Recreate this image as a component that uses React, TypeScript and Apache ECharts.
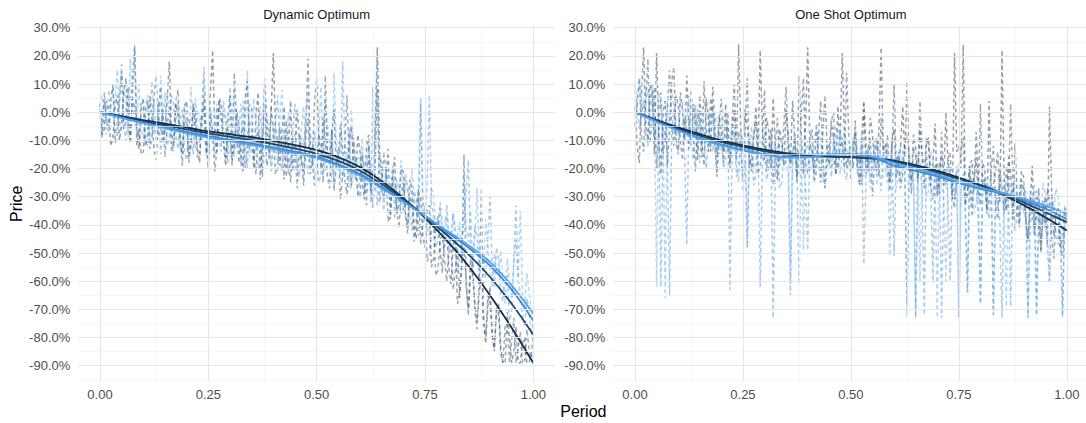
import React, { useEffect, useRef } from "react";
import * as echarts from "echarts";

// ---- axes -----------------------------------------------------------------
const panelTitles = ["Dynamic Optimum", "One Shot Optimum"];
const xTicks = [0, 0.25, 0.5, 0.75, 1];
const xMinorTicks = [0.125, 0.375, 0.625, 0.875];
const yTicks = [-90, -80, -70, -60, -50, -40, -30, -20, -10, 0, 10, 20, 30];
const yMinorTicks = [-95, -85, -75, -65, -55, -45, -35, -25, -15, -5, 5, 15, 25];

// one colour per group, dark to light
const groupColors = ["#132B43", "#1F4669", "#3C88D4", "#4EA2EE"];

// ---- observed prices (%, period 0 .. 1 in steps of 0.005) -----------------
const dynObs1 = [
  3, -8, -6, 4, 1, -12, -9, 2, 6, -10, -4, 7, 12, -3, -11, 5, 2, -6, -13, 1,
  5, -12, -8, 6, -2, -14, -17, 0, 9, -11, -6, 4, 18, -7, -12, 3, -1, -9, -15, 2,
  4, -16, -10, 3, -6, -13, -18, -1, 2, -15, -9, 8, 22, -8, -14, 4, -3, -11, -19, -2,
  6, -17, -12, 1, -4, -15, -21, 5, 11, -13, -8, -20, -1, 7, -24, -9, 3, -19, -16, 0,
  21, -6, -11, -19, -7, 2, -23, -12, 4, -21, -14, 1, -9, -17, -26, -8, -2, -22, -18, 3,
  12, -9, -20, -2, -10, -23, -27, -7, 1, -18, -16, -4, -13, -24, -29, -11, -5, -17, -24, -8,
  -14, -25, -31, -12, -8, -28, -22, -6, 23, -15, -19, -30, -25, -13, -38, -24, -16, -36, -33, -20,
  -21, -36, -40, -24, -27, -41, -45, -29, -30, -44, -48, -35, -33, -55, -52, -40, -37, -49, -57, -43,
  -42, -55, -61, -47, -45, -68, -64, -52, -48, -60, -72, -58, -53, -70, -77, -64, -59, -75, -82, -69,
  -62, -78, -85, -70, -68, -84, -89, -89, -71, -80, -89, -85, -76, -89, -89, -82, -80, -89, -89, -86,
  -89,
];
const dynObs2 = [
  1, -9, 7, -4, -5, 5, 10, -11, -8, 3, 17, -6, -3, 9, -10, 6, 23, -12, -6, -15,
  -14, 0, 4, -13, -9, 6, 13, -8, -7, 1, -16, -5, 2, -14, -11, 4, 8, -10, -19, -3,
  -4, -18, -12, 2, 0, -16, -15, -3, 6, -12, -20, 0, -8, -21, -13, 5, 3, -9, -17, -6,
  -9, -19, 14, -2, -18, -8, -5, -20, -12, 3, 1, -16, -22, -7, -10, -23, 12, -4, -15, 2,
  -6, -22, -20, -5, -12, -24, -3, -16, -25, -9, -14, -27, -8, -18, -21, -4, 19, -11, -17, -26,
  -24, -8, -11, -25, 13, -14, -19, -6, -28, -20, -15, -31, -22, -12, 6, -17, -26, -9, -18, -29,
  -30, -15, -19, -33, -12, -26, -34, -18, 8, -32, -27, -14, -21, -39, -36, -23, -28, -34, -41, -30,
  -25, -37, -43, -30, -32, -46, -38, -27, -47, -39, -35, -53, -51, -42, -40, -58, -56, -45, -44, -52,
  -60, -50, -47, -63, -56, -48, -66, -55, -15, -62, -70, -52, -58, -68, -74, -61, -27, -72, -80, -65,
  -68, -79, -84, -70, -72, -86, -89, -76, -75, -89, -81, -73, -89, -84, -78, -89, -89, -77, -84, -87,
  -79,
];
const dynObs3 = [
  -1, -6, 4, -3, -7, 2, 9, -9, -3, 6, 14, -5, -10, -1, 5, 11, 24, -2, -8, 3,
  2, -10, -12, -1, 11, -7, -5, 4, -15, -4, 7, -12, -9, 6, 3, -8, -13, -3, 1, -14,
  -17, -2, -6, -15, 5, -9, -11, 3, 16, -8, -19, -4, -7, -16, 2, -10, -14, 1, -3, -18,
  9, -7, -16, 0, -10, -19, 4, -12, -20, -3, -6, -17, -13, -5, 2, -14, -18, -1, -8, -21,
  -14, -4, 6, -15, -21, -8, -11, -22, -17, -6, 3, -18, -23, -9, -12, -2, 7, -16, -19, -7,
  -15, -25, -22, -9, 4, -14, -18, -7, -26, -19, -13, -24, 18, -12, -20, -6, -27, -21, -16, -30,
  -23, -14, -29, -20, -17, -32, 9, -25, -33, -15, -24, -35, -20, -28, -31, -19, -38, -24, -27, -36,
  -34, -22, -26, -37, -42, -28, -31, -44, 5, -30, -39, -25, 6, -33, -36, -48, -45, -32, -40, -51,
  -33, -43, -48, -36, -41, -57, -52, -46, -38, -28, -17, -49, -55, -40, -44, -61, -50, -53, -59, -45,
  -30, -55, -62, -48, -53, -65, -67, -60, -58, -74, -71, -52, -33, -60, -64, -72, -76, -66, -70, -79,
  -74,
];
const dynObs4 = [
  2, 6, -4, -8, 8, 1, -2, 5, 15, -3, -7, 9, 3, -9, 19, 4, -5, -1, 10, -6,
  -9, 2, 6, -11, -3, 5, -12, -6, 13, -2, -8, 7, 1, -10, -14, -4, 4, -13, -10, 3,
  -6, -14, 9, -4, -13, 1, -2, -10, 12, -7, -16, 2, -5, -12, 3, -8, -11, 4, -1, -15,
  -15, -2, 7, -13, -8, 3, -19, -6, 15, -16, -12, 5, -3, -20, -17, -1, 10, -7, -11, -18,
  -4, -12, -18, -3, 8, -16, -13, 0, -20, -11, -7, -21, -15, -5, 2, -17, -22, -8, -10, -24,
  -17, -6, 9, -14, -21, -4, -12, -25, 14, -10, -19, -8, -24, -18, -14, -27, 1, -11, -23, -16,
  -18, -9, -27, -20, -11, -26, -30, -16, 20, -12, -25, -31, -19, -28, -33, -21, -23, -35, -29, -17,
  -36, -24, -28, -33, -20, -31, -35, -26, 3, -37, -33, -40, -44, -27, -30, -42, -38, -34, -46, -39,
  -37, -49, -43, -36, -50, -44, -39, -51, -22, -41, -46, -35, -53, -45, -27, -52, -48, -58, -38, -47,
  -55, -62, -50, -57, -58, -49, -61, -68, -52, -60, -66, -54, -45, -59, -35, -64, -69, -57, -63, -70,
  -72,
];

const shotObs1 = [
  2, -12, -18, 6, 23, -4, -10, 10, 8, -15, 21, -8, -22, 0, 4, -19, -6, 11, 16, -9,
  -15, 7, 1, -10, 13, -6, -12, 3, -4, -17, 6, -11, -19, 5, -2, -14, 9, -5, -16, -1,
  -8, -18, 3, -11, -20, -3, 10, -15, 24, -7, -13, 1, -5, -16, -21, -9, 2, -14, 22, -6,
  -17, -2, -7, -20, 5, -13, -24, -6, -11, -19, 1, -10, -18, 4, -9, -23, 13, -8, -22, -4,
  23, -11, -14, -21, -4, -16, -25, -7, 6, -13, -19, -3, -10, -22, 2, -12, 21, -8, -20, -15,
  -12, -20, -3, -17, -26, -9, 4, -22, -15, -2, -8, -18, -21, -6, 23, -14, -11, -19, -28, -10,
  -6, -23, -19, -12, 2, -16, 11, -20, -24, -8, -13, -25, -5, -17, -27, -11, -9, -26, -18, -4,
  -30, -21, -15, -26, 0, -18, -23, -31, 21, -14, -12, -20, 24, -33, -29, -19, -17, -28, -7, -24,
  -33, -18, -20, -36, 4, -29, -26, -21, -14, -32, 22, -27, -35, -16, -22, -38, -11, -30, -40, -24,
  -28, -39, -45, -33, -19, -42, -37, -27, -50, -38, -30, -47, 2, -29, -44, -36, -34, -48, -51, -40,
  -42,
];
const shotObs2 = [
  -5, 4, 12, -8, -14, 3, 19, -11, -2, 9, -20, -6, 7, -15, -9, 2, 15, -5, -12, 6,
  3, -10, -17, -2, -6, -13, 8, -9, -21, 1, -3, -16, 11, -7, -14, 5, 0, -12, -23, -4,
  5, -14, -11, 0, -18, -9, 1, -17, -7, -12, -24, -5, 12, -20, -15, -8, -3, -22, -19, -10,
  8, -21, -13, -6, -26, -11, -2, -19, -16, -4, 9, -12, -20, -15, -8, -25, -14, -1, 12, -18,
  -22, -10, -6, -24, -17, -8, 4, -15, -27, -18, -12, -3, 0, -22, -19, -13, -9, -20, 14, -7,
  -24, -13, -7, -19, -16, -26, 3, -11, -21, -9, -30, -17, -10, -23, -2, -14, -18, -8, -25, -15,
  10, -20, -14, -27, -22, -11, -8, -18, -29, -13, -16, -24, 4, -15, -21, -9, -12, -26, -31, -19,
  -18, -29, -7, -22, -26, -17, -14, -30, -34, -23, -20, -13, -9, -32, -28, -19, -37, -25, -16, -31,
  3, -26, -24, -35, -31, -20, -12, -33, -38, -22, -27, -36, -19, -28, 3, -25, -42, -34, -30, -21,
  -23, -37, -46, -30, -35, -44, -28, -40, -49, -33, -41, -27, -31, -43, -52, -36, -38, -48, -45, -34,
  -39,
];
const shotObs3 = [
  10, 2, -6, -1, 4, -8, -12, 5, 7, -10, -3, 0, -62, -4, -9, -14, -65, -7, 1, -11,
  -14, -6, -4, -15, -47, -2, -10, -17, 3, -9, -18, -5, -8, -20, -13, 0, 2, -12, -21, -7,
  -11, -20, -16, -5, -63, -14, -7, -23, -19, -10, -28, -17, -48, -9, -13, -26, -22, -12, -62, -18,
  -15, -24, -20, -11, -73, -19, -12, -27, -25, -14, -18, -22, -65, -16, -9, -20, -61, -13, -17, -26,
  -49, -12, -14, -25, -22, -7, -10, -19, -27, -11, -16, -23, -8, -17, -20, -6, -13, -21, -24, -15,
  -18, -9, -11, -20, -26, -13, -54, -22, -15, -27, -21, -12, -9, -19, -28, -14, -17, -25, -23, -10,
  -51, -16, -19, -25, -14, -21, -68, -13, -26, -19, -73, -24, -18, -28, -72, -15, -22, -27, -60, -20,
  -29, -18, -73, -26, -20, -32, -60, -22, -31, -19, -73, -28, -24, -35, -64, -21, -33, -25, -27, -38,
  -68, -22, -25, -33, -38, -27, -72, -29, -30, -40, -73, -24, -35, -31, -69, -26, -28, -36, -41, -30,
  -36, -28, -73, -42, -32, -26, -72, -37, -45, -31, -39, -48, -60, -29, -34, -43, -47, -35, -72, -40,
  -38,
];
const shotObs4 = [
  8, 0, 12, 5, -2, 9, 6, -4, 10, 3, -62, 7, 3, -6, -66, 4, -5, 8, 2, -7,
  -8, 3, 4, -10, -3, 6, -12, -2, 1, -13, -9, 2, -6, -11, 0, -7, -14, 0, -4, -15,
  -10, -1, -2, -14, -16, -4, -8, -19, -25, -7, -13, -3, -48, -12, -5, -20, -18, -6, -11, -17,
  -7, -16, -20, -8, -15, -21, -24, -11, -9, -19, -17, -6, -60, -14, -12, -23, -22, -10, -49, -15,
  -10, -21, -19, -9, -6, -17, -14, -25, -23, -12, -11, -20, -18, -5, -8, -22, -16, -7, -13, -18,
  -20, -11, -9, -22, -17, -8, -23, -15, -12, -24, -18, -10, -26, -16, -14, -23, -21, -13, -51, -19,
  -16, -27, -24, -12, -13, -22, -73, -18, -19, -26, -72, -15, -60, -23, -21, -30, -28, -14, -17, -25,
  -73, -20, -25, -31, -60, -23, -18, -29, -30, -21, -73, -27, -22, -34, -64, -19, -26, -36, -32, -24,
  -68, -30, -24, -35, -29, -22, -72, -28, -34, -20, -27, -37, -69, -25, -31, -33, -23, -29, -38, -26,
  -26, -34, -73, -28, -33, -39, -72, -31, -40, -25, -29, -42, -60, -32, -35, -27, -30, -41, -73, -33,
  -36,
];

// ---- fitted trends (%, period 0 .. 1 in steps of 0.05) --------------------
const dynFit1 = [0, -1.4, -2.8, -4.1, -5.4, -6.8, -7.8, -8.9, -10.2, -11.7, -13.5, -16, -19.5, -24.5, -30.5, -37.5, -45.5, -54.5, -65, -76.5, -89];
const dynFit2 = [0, -1.6, -3.2, -4.7, -6.1, -7.5, -8.7, -9.9, -11.3, -12.9, -14.8, -17.3, -20.8, -25.5, -31, -37, -43.5, -50.5, -58.5, -68, -79];
const dynFit3 = [0, -1.9, -3.7, -5.4, -7.0, -8.5, -9.8, -11.1, -12.5, -14.0, -15.8, -18.5, -22, -26.5, -31.5, -37, -42.5, -48, -54.5, -63, -74];
const dynFit4 = [0, -2.0, -3.9, -5.7, -7.4, -9.0, -10.3, -11.6, -13.0, -14.5, -16.3, -19, -22.5, -27, -31.8, -36.8, -42, -47.2, -53.2, -61.5, -71.5];

const shotFit1 = [0, -2.8, -5.4, -7.8, -10, -11.8, -13.3, -14.5, -15.3, -15.7, -15.9, -16.3, -17.2, -18.8, -20.8, -23.2, -26, -29.2, -33, -37.3, -42];
const shotFit2 = [0, -3.0, -5.8, -8.3, -10.5, -12.3, -13.8, -15.0, -15.6, -15.8, -16.0, -16.5, -17.5, -19.2, -21.3, -23.7, -25.8, -28.8, -32, -35.5, -39];
const shotFit3 = [0, -3.3, -6.4, -9.1, -11.5, -13.4, -14.9, -15.9, -15.9, -15.0, -14.9, -16.0, -19, -20.8, -22.8, -25.2, -27.2, -29, -31.3, -34.2, -38];
const shotFit4 = [0, -3.4, -6.6, -9.4, -11.8, -13.6, -15.1, -16.1, -16.0, -15.0, -14.8, -15.8, -18.0, -20.0, -22.2, -24.7, -26.8, -28.6, -30.7, -33.2, -36];

const panels = [
  { obs: [dynObs1, dynObs2, dynObs3, dynObs4], fit: [dynFit1, dynFit2, dynFit3, dynFit4] },
  { obs: [shotObs1, shotObs2, shotObs3, shotObs4], fit: [shotFit1, shotFit2, shotFit3, shotFit4] },
];

// ---- layout ---------------------------------------------------------------
const FONT = "'Liberation Sans', Arial, Helvetica, sans-serif";
const PANEL_TOP = 25.7;
const PANEL_H = 356.1;
const panelBoxes = [
  { left: 78.3, width: 476.7 },
  { left: 613.4, width: 475 },
];

const toPairs = (vals: number[]) => vals.map((v, i) => [i / (vals.length - 1), v]);

const gridLines = () => ({
  silent: true,
  symbol: ["none", "none"],
  label: { show: false },
  emphasis: { disabled: true },
  animation: false,
  data: [
    ...xMinorTicks.map((v) => ({ xAxis: v, lineStyle: { color: "#f2f2f2", width: 0.7, type: "solid" } })),
    ...yMinorTicks.map((v) => ({ yAxis: v, lineStyle: { color: "#f2f2f2", width: 0.7, type: "solid" } })),
    ...xTicks.map((v) => ({ xAxis: v, lineStyle: { color: "#e6e6e6", width: 1.2, type: "solid" } })),
    ...yTicks.map((v) => ({ yAxis: v, lineStyle: { color: "#e6e6e6", width: 1.2, type: "solid" } })),
  ],
});

function buildOption() {
  const grid = panelBoxes.map((b) => ({
    left: b.left,
    width: b.width,
    top: PANEL_TOP,
    height: PANEL_H,
    containLabel: false,
    outerBoundsMode: "none",
  }));

  const xAxis = panelBoxes.map((_, k) => ({
    type: "value",
    gridIndex: k,
    min: -0.05,
    max: 1.05,
    axisLine: { show: false },
    axisTick: { show: false },
    splitLine: { show: false },
    axisLabel: {
      customValues: xTicks,
      formatter: (v: number) => v.toFixed(2),
      color: "#4d4d4d",
      fontSize: 13,
      fontFamily: FONT,
      margin: 6,
    },
  }));

  const yAxis = panelBoxes.map((_, k) => ({
    type: "value",
    gridIndex: k,
    min: -95.7,
    max: 30.7,
    axisLine: { show: false },
    axisTick: { show: false },
    splitLine: { show: false },
    axisLabel: {
      customValues: yTicks,
      formatter: (v: number) => `${v.toFixed(1)}%`,
      color: "#4d4d4d",
      fontSize: 13,
      fontFamily: FONT,
      margin: 8,
    },
  }));

  const series: any[] = [];
  panels.forEach((p, k) => {
    series.push({
      type: "line",
      xAxisIndex: k,
      yAxisIndex: k,
      data: [[0, 0]],
      showSymbol: false,
      lineStyle: { opacity: 0 },
      silent: true,
      z: 0,
      markLine: gridLines(),
    });
    p.obs.forEach((vals, g) => {
      series.push({
        type: "line",
        xAxisIndex: k,
        yAxisIndex: k,
        data: toPairs(vals),
        showSymbol: false,
        silent: true,
        z: 2,
        lineStyle: { color: groupColors[g], opacity: 0.45, width: 1.5, type: [4, 3], cap: "butt" },
      });
    });
    p.fit.forEach((vals, g) => {
      series.push({
        type: "line",
        xAxisIndex: k,
        yAxisIndex: k,
        data: toPairs(vals),
        showSymbol: false,
        smooth: 0.35,
        silent: true,
        z: 3,
        lineStyle: { color: groupColors[g], width: 1.8 },
      });
    });
  });

  const graphic: any[] = [
    ...panelTitles.map((t, k) => ({
      type: "text",
      x: panelBoxes[k].left + panelBoxes[k].width / 2,
      y: 14,
      style: { text: t, fill: "#1a1a1a", font: `13px ${FONT}`, textAlign: "center", textVerticalAlign: "middle" },
    })),
    {
      type: "text",
      x: 16,
      y: PANEL_TOP + PANEL_H / 2,
      rotation: Math.PI / 2,
      style: { text: "Price", fill: "#000", font: `16px ${FONT}`, textAlign: "center", textVerticalAlign: "middle" },
    },
    {
      type: "text",
      x: (panelBoxes[0].left + panelBoxes[1].left + panelBoxes[1].width) / 2,
      y: 411,
      style: { text: "Period", fill: "#000", font: `16px ${FONT}`, textAlign: "center", textVerticalAlign: "middle" },
    },
  ];

  return { animation: false, backgroundColor: "#ffffff", grid, xAxis, yAxis, series, graphic };
}

export default function App() {
  const ref = useRef<HTMLDivElement>(null);
  useEffect(() => {
    if (!ref.current) return;
    const chart = echarts.init(ref.current, null, { renderer: "svg" });
    chart.setOption(buildOption() as any);
    return () => chart.dispose();
  }, []);
  return (
    <div
      ref={ref}
      style={{ position: "fixed", left: 0, top: 0, width: 1086, height: 423, background: "#fff" }}
    />
  );
}
